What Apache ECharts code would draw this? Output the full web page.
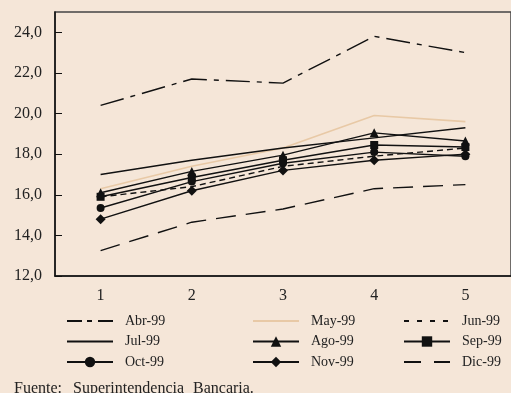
<!DOCTYPE html>
<html><head><meta charset="utf-8">
<script src="https://cdn.jsdelivr.net/npm/echarts@6/dist/echarts.min.js"></script>
<style>html,body{margin:0;padding:0;background:#f5e6d8;}#c{width:511px;height:393px;}</style>
</head><body><div id="c"></div>
<script>
var categories = ['1','2','3','4','5'];
var abr99 = [20.4, 21.7, 21.5, 23.8, 23.0];
var may99 = [16.3, 17.4, 18.3, 19.9, 19.6];
var jun99 = [15.9, 16.4, 17.4, 17.9, 18.3];
var jul99 = [17.0, 17.7, 18.3, 18.8, 19.3];
var ago99 = [16.1, 17.15, 17.95, 19.05, 18.65];
var sep99 = [15.9, 16.85, 17.7, 18.45, 18.35];
var oct99 = [15.35, 16.65, 17.55, 18.1, 17.9];
var nov99 = [14.8, 16.2, 17.2, 17.7, 18.0];
var dic99 = [13.25, 14.65, 15.3, 16.3, 16.5];
var yTicks = [12, 14, 16, 18, 20, 22, 24];
var sourceWords = ['Fuente:', 'Superintendencia', 'Bancaria.'];

var serif = '"Liberation Serif", "DejaVu Serif", serif';
function s(name, data, opts) {
  return {
    name: name, type: 'line', data: data,
    symbol: opts.symbol || 'none', symbolSize: opts.size || 7,
    showSymbol: !!opts.symbol,
    lineStyle: { color: opts.color || '#111', width: opts.width || 1.4, type: opts.type || 'solid' },
    itemStyle: { color: opts.color || '#111' },
    emphasis: { disabled: true }, animation: false
  };
}
var hidden = { color: 'rgba(0,0,0,0)', borderColor: 'rgba(0,0,0,0)', borderWidth: 0 };
function li(name, dash, noSym) {
  var o = { name: name };
  if (dash) o.lineStyle = { type: dash };
  if (noSym) o.itemStyle = hidden;
  return o;
}
var chart = echarts.init(document.getElementById('c'));
var legendBase = {
  orient: 'vertical', top: 311, padding: 0, itemWidth: 46, itemHeight: 13, itemGap: 0.5,
  textStyle: { fontFamily: serif, fontSize: 14, color: '#222', lineHeight: 20, padding: [0, 0, 0, 7] },
  selectedMode: false
};
var words = [];
var wx = [14, 73, 193];
sourceWords.forEach(function (w, i) {
  words.push({ type: 'text', left: wx[i], top: 381, style: { text: w, font: '16px ' + serif, fill: '#222' } });
});
chart.setOption({
  backgroundColor: '#f5e6d8',
  animation: false,
  grid: { left: 55, top: 12, width: 465, height: 264, show: true, borderColor: '#444', borderWidth: 1.5, backgroundColor: 'transparent' },
  xAxis: {
    type: 'category', data: categories, boundaryGap: true,
    axisLine: { lineStyle: { color: '#111', width: 1.5 } },
    axisTick: { inside: true, length: 5, lineStyle: { color: '#111' } },
    axisLabel: { fontFamily: serif, fontSize: 16, color: '#222', margin: 12 }
  },
  yAxis: {
    type: 'value', min: 12, max: 25, interval: 2,
    axisLine: { show: true, lineStyle: { color: '#111', width: 1.5 } },
    axisTick: { show: true, inside: true, length: 7, lineStyle: { color: '#111' } },
    splitLine: { show: false },
    axisLabel: { fontFamily: serif, fontSize: 16, color: '#222', margin: 13, showMaxLabel: false,
      formatter: function (v) { return yTicks.indexOf(v) >= 0 ? v.toFixed(1).replace('.', ',') : ''; } }
  },
  legend: [
    Object.assign({}, legendBase, { left: 66, data: [li('Abr-99', [15, 5, 5, 6], true), li('Jul-99', null, true), li('Oct-99')] }),
    Object.assign({}, legendBase, { left: 252, data: [li('May-99', null, true), li('Ago-99'), li('Nov-99')] }),
    Object.assign({}, legendBase, { left: 403, data: [li('Jun-99', [5, 8], true), li('Sep-99'), li('Dic-99', [17, 13], true)] })
  ],
  graphic: words,
  series: [
    s('Abr-99', abr99, { type: [24, 7, 5, 7] }),
    s('May-99', may99, { color: '#e8c9a6', width: 1.6 }),
    s('Jun-99', jun99, { type: [6, 4] }),
    s('Jul-99', jul99, {}),
    s('Ago-99', ago99, { symbol: 'triangle', size: 9 }),
    s('Sep-99', sep99, { symbol: 'rect', size: 8 }),
    s('Oct-99', oct99, { symbol: 'circle', size: 8 }),
    s('Nov-99', nov99, { symbol: 'diamond', size: 10 }),
    s('Dic-99', dic99, { type: [20, 10] })
  ]
});
</script></body></html>
